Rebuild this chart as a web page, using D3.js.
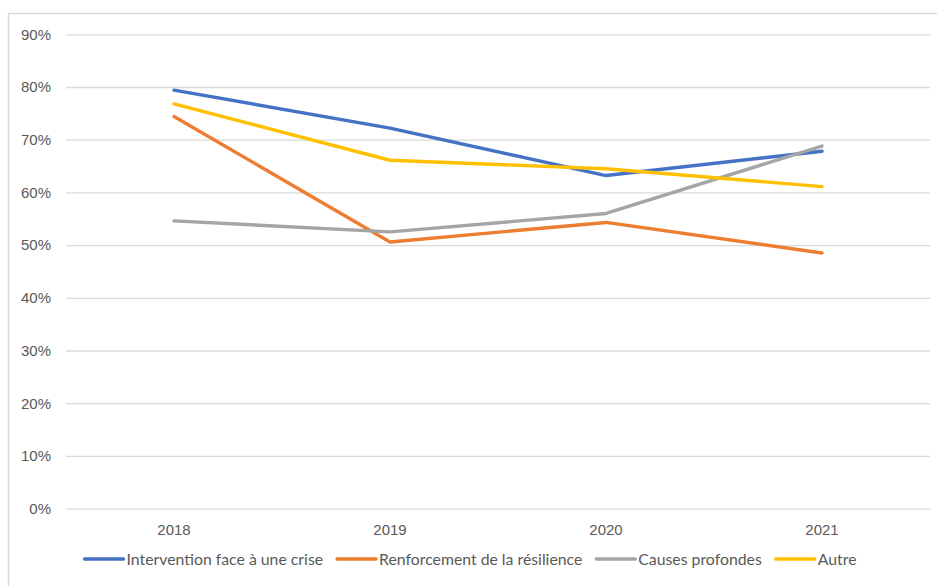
<!DOCTYPE html>
<html>
<head>
<meta charset="utf-8">
<script src="https://cdn.jsdelivr.net/npm/d3@7"></script>
<style>
  body { margin: 0; background: #fff; }
  svg { display: block; font-family: Lato, "Open Sans", sans-serif; }
</style>
</head>
<body>
<svg id="chart"></svg>
<script>
// data
const years = ['2018', '2019', '2020', '2021']
const seriesNames = ['Intervention face à une crise', 'Renforcement de la résilience', 'Causes profondes', 'Autre']
const intervention = [79.4, 72.2, 63.2, 67.8]
const renforcement = [74.4, 50.6, 54.3, 48.5]
const causes = [54.6, 52.5, 56.0, 68.8]
const autre = [76.8, 66.1, 64.5, 61.1]
const yTicks = [0, 10, 20, 30, 40, 50, 60, 70, 80, 90]
const colors = ['#4472C4', '#ED7D31', '#A5A5A5', '#FFC000']

const series = [intervention, renforcement, causes, autre].map((values, i) => ({
    name: seriesNames[i],
    color: colors[i],
    values: values
}))

const width = 937, height = 586
const fontSize = 15
const svg = d3.select('#chart').attr('width', width).attr('height', height)

// outer chart-area frame (runs off the right/bottom edge)
svg.append('rect')
    .attr('x', 8.5).attr('y', 13.5)
    .attr('width', 1000).attr('height', 1000)
    .attr('fill', 'none')
    .attr('stroke', '#d9d9d9')
    .attr('stroke-width', 1.5)

const plot = { left: 66, right: 930, top: 34.3, bottom: 508.6 }

const x = d3.scaleBand().domain(years).range([plot.left, plot.right])
const y = d3.scaleLinear().domain([0, 90]).range([plot.bottom, plot.top])

// gridlines + y labels
const yAxis = svg.append('g')
    .attr('transform', `translate(${plot.left},0)`)
    .call(d3.axisLeft(y).tickValues(yTicks).tickFormat(d => d + '%')
        .tickSize(-(plot.right - plot.left)).tickPadding(15))
yAxis.select('.domain').remove()
yAxis.selectAll('.tick line').attr('stroke', '#d9d9d9').attr('stroke-width', 1.3)
yAxis.selectAll('.tick text').attr('fill', '#595959').attr('font-size', fontSize)
    .attr('font-family', null)

// x labels
const xAxis = svg.append('g')
    .attr('transform', `translate(0,${plot.bottom})`)
    .call(d3.axisBottom(x).tickSize(0).tickPadding(16))
xAxis.select('.domain').remove()
xAxis.selectAll('.tick text').attr('fill', '#595959').attr('font-size', fontSize)
    .attr('font-family', null)

// lines
const line = d3.line()
    .x((d, i) => x(years[i]) + x.bandwidth() / 2)
    .y(d => y(d))

svg.append('g').selectAll('path')
    .data(series)
    .join('path')
    .attr('d', d => line(d.values))
    .attr('fill', 'none')
    .attr('stroke', d => d.color)
    .attr('stroke-width', 3.4)
    .attr('stroke-linecap', 'round')
    .attr('stroke-linejoin', 'round')

// legend, laid out by measured text width and centred
const legend = svg.append('g')
const legendY = 559
const swatch = 39, swatchGap = 3, itemGap = 14
let cursor = 0
const items = legend.selectAll('g')
    .data(series)
    .join('g')
items.append('line')
    .attr('x1', 0).attr('x2', swatch)
    .attr('y1', 0).attr('y2', 0)
    .attr('stroke', d => d.color)
    .attr('stroke-width', 3.4)
    .attr('stroke-linecap', 'round')
items.append('text')
    .attr('x', swatch + swatchGap)
    .attr('dy', '0.35em')
    .attr('fill', '#595959')
    .attr('font-size', 15.8)
    .text(d => d.name)
items.each(function () {
    const w = swatch + swatchGap + this.querySelector('text').getComputedTextLength()
    d3.select(this).attr('transform', `translate(${cursor},${legendY})`)
    cursor += w + itemGap
})
const total = cursor - itemGap
legend.attr('transform', `translate(${470.5 - total / 2},0)`)
</script>
</body>
</html>
